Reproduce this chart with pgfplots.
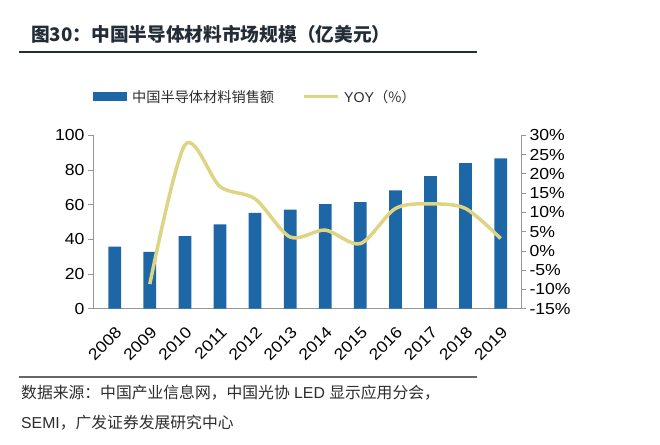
\documentclass[border=0pt]{standalone}
\usepackage{pgfplots}
\pgfplotsset{compat=1.18}
\usepackage{fontspec}
\setmainfont{Liberation Sans}
\newfontfamily\cjk{Noto Sans CJK SC}
\newfontfamily\tickf[FakeStretch=1.1]{Liberation Sans}
\definecolor{barblue}{RGB}{30,103,166}
\definecolor{yoyc}{RGB}{222,212,130}
\definecolor{axgray}{RGB}{150,150,150}
\definecolor{titlec}{RGB}{35,45,55}
\definecolor{txt}{RGB}{45,45,45}
\pgfplotstableread{
x val
0 35.8
1 32.8
2 41.8
3 48.7
4 55.3
5 57.2
6 60.3
7 61.5
8 68.2
9 76.5
10 84.0
11 86.7
}\sales
\pgfplotstableread{
x yoy
1 -8.6
2 27.5
3 16.7
4 13.5
5 3.6
6 5.4
7 1.9
8 11.0
9 12.2
10 11.0
11 3.2
}\yoy
\begin{document}
\begin{tikzpicture}
\useasboundingbox (0bp,0bp) rectangle (660bp,445bp);
\node[anchor=west, inner sep=0, font=\cjk\bfseries\fontsize{18.7bp}{20bp}\selectfont, text=titlec] at (31bp,411bp) {图30：中国半导体材料市场规模（亿美元）};
\draw[titlec, line width=1.8bp] (19bp,393bp) -- (477bp,393bp);
\begin{axis}[
  at={(93bp,136.3bp)}, anchor=south west, scale only axis,
  width=428bp, height=173.4bp,
  xmin=-0.62, xmax=11.58, ymin=0, ymax=100,
  ytick={0,20,40,60,80,100},
  yticklabels={0,20,40,60,80,100},
  xtick={0,...,11},
  xticklabels={2008,2009,2010,2011,2012,2013,2014,2015,2016,2017,2018,2019},
  axis x line*=bottom, axis y line*=left,
  axis line style={axgray, line width=0.8bp},
  tick style={axgray, line width=0.8bp},
  tick align=outside, major tick length=5bp,
  x tick style={draw=none},
  ticklabel style={font=\tickf\fontsize{16bp}{18bp}\selectfont, text=black},
  xticklabel style={rotate=45, anchor=north east, inner sep=0},
  xticklabel shift=12bp,
  ybar, bar width=12.7bp,
  legend style={at={(axis description cs:0,1.221)}, anchor=west, draw=none, fill=none,
    font=\cjk\fontsize{14.2bp}{16bp}\selectfont, text=txt, inner sep=0,
    /tikz/every even column/.append style={column sep=26bp},
    /tikz/every odd column/.append style={column sep=3bp}},
  legend columns=2,
]
\addplot[fill=barblue, draw=none,
  legend image code/.code={\fill[barblue] (0bp,-4.5bp) rectangle (34bp,4.5bp);}]
  table[x=x, y=val] {\sales};
\addlegendentry{中国半导体材料销售额}
\addlegendimage{legend image code/.code={\draw[yoyc, line width=3bp] (0bp,0bp) -- (34bp,0bp);}}
\addlegendentry{{\fontspec{Liberation Sans}YOY}（\%）}
\end{axis}
\begin{axis}[
  at={(93bp,136.3bp)}, anchor=south west, scale only axis,
  width=428bp, height=173.4bp,
  xmin=-0.62, xmax=11.58, ymin=-15, ymax=30,
  ytick={-15,-10,-5,0,5,10,15,20,25,30},
  yticklabels={-15\%,-10\%,-5\%,0\%,5\%,10\%,15\%,20\%,25\%,30\%},
  axis x line=none, axis y line*=right,
  axis line style={axgray, line width=0.8bp},
  tick style={axgray, line width=0.8bp},
  tick align=outside, major tick length=5bp,
  ticklabel style={font=\tickf\fontsize{16bp}{18bp}\selectfont, text=black},
]
\addplot[yoyc, line width=3.5bp, smooth, tension=0.5] table[x=x, y=yoy] {\yoy};
\end{axis}
\draw[black!60, line width=1.6bp] (19bp,68bp) -- (477bp,68bp);
\node[anchor=west, inner sep=0, text=txt, font=\fontsize{15.8bp}{18bp}\selectfont] at (21bp,52bp) {{\cjk 数据来源：中国产业信息网，中国光协} LED {\cjk 显示应用分会，}};
\node[anchor=west, inner sep=0, text=txt, font=\fontsize{15.8bp}{18bp}\selectfont] at (21bp,22bp) {SEMI{\cjk ，广发证券发展研究中心}};
\end{tikzpicture}
\end{document}
